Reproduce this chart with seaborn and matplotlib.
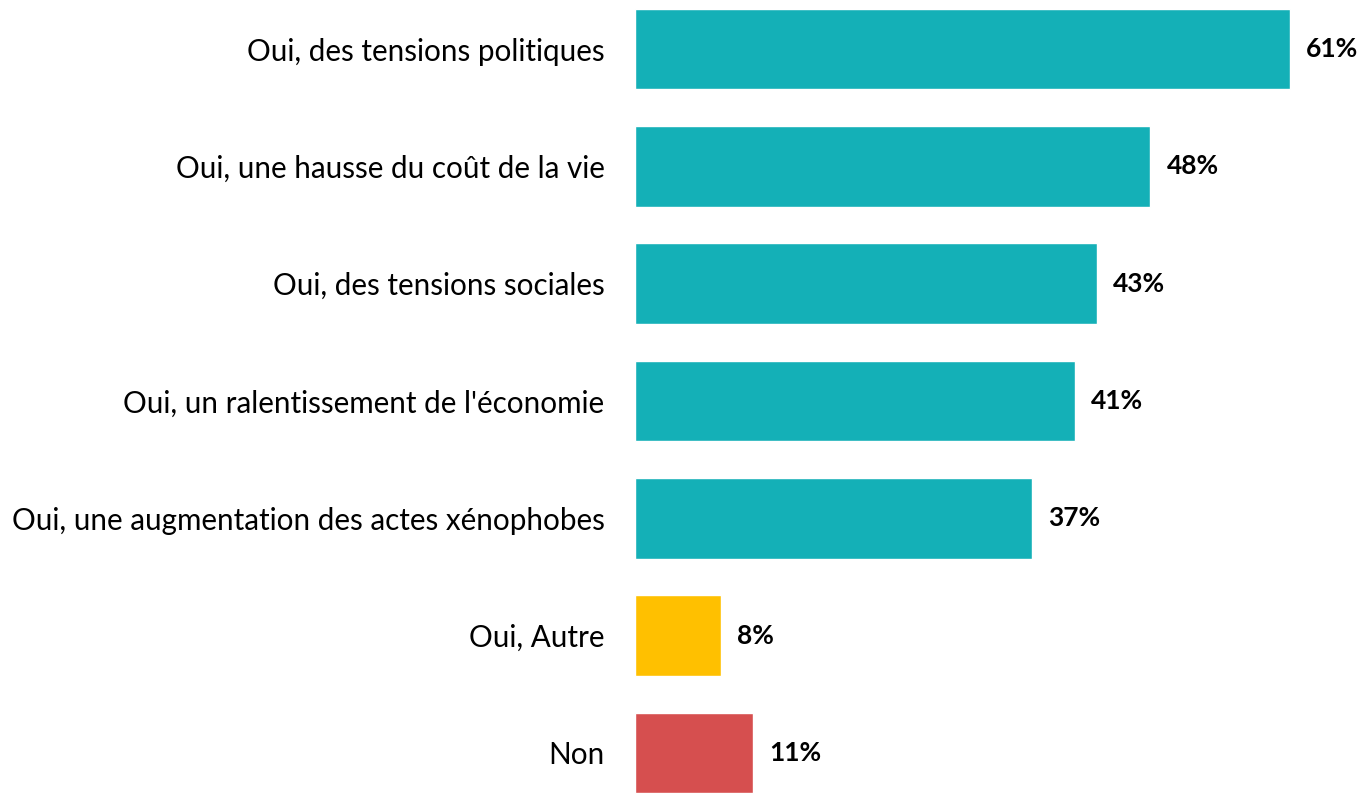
import matplotlib
matplotlib.use("Agg")
import matplotlib.pyplot as plt
import seaborn as sns
import pandas as pd

categories = [
    "Oui, des tensions politiques",
    "Oui, une hausse du coût de la vie",
    "Oui, des tensions sociales",
    "Oui, un ralentissement de l'économie",
    "Oui, une augmentation des actes xénophobes",
    "Oui, Autre",
    "Non",
]
values = [61, 48, 43, 41, 37, 8, 11]
labels = ["61%", "48%", "43%", "41%", "37%", "8%", "11%"]
colors = ["#14B0B7", "#14B0B7", "#14B0B7", "#14B0B7", "#14B0B7", "#FFC000", "#D64F4F"]

df = pd.DataFrame({"cat": categories, "val": values})

sns.set_theme(style="white")
plt.rcParams["font.family"] = ["Lato", "DejaVu Sans"]

fig = plt.figure(figsize=(13.61, 7.94), dpi=100)
ax = fig.add_axes([635 / 1361, 0, 698 / 1361, 1])

sns.barplot(data=df, x="val", y="cat", hue="cat", palette=colors, legend=False,
            width=0.69, ax=ax, orient="h", saturation=1)

ax.set_xlim(0, 65)
ax.set_ylim(6 + (794 - 753) / 117.3, -49 / 117.3)
ax.set_xlabel("")
ax.set_ylabel("")
ax.set_xticks([])
ax.tick_params(axis="y", length=0, pad=22, labelsize=21.3, labelcolor="black")
for s in ax.spines.values():
    s.set_visible(False)

for i, (v, lab) in enumerate(zip(values, labels)):
    ax.annotate(lab, xy=(v, i), xytext=(11.5, 0), textcoords="offset points",
                va="center", ha="left", fontsize=19, fontweight="bold",
                color="black", annotation_clip=False)

fig.savefig("out.png", dpi=100)
